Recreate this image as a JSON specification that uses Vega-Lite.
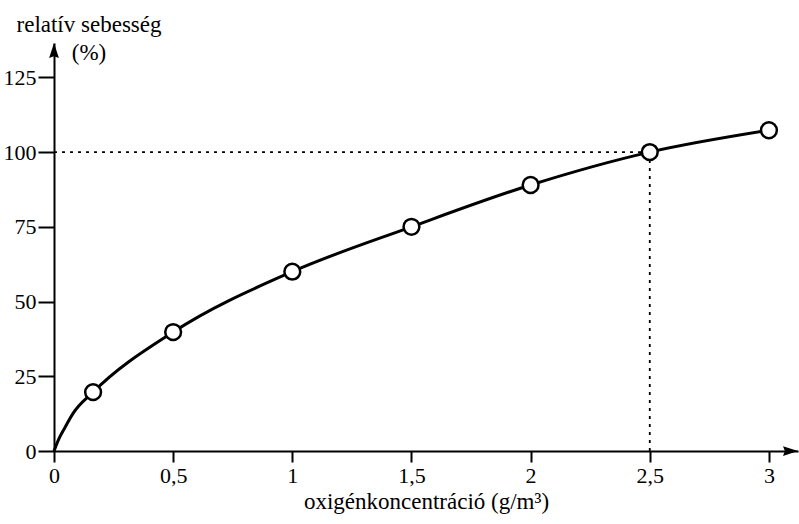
{
  "$schema": "https://vega.github.io/schema/vega-lite/v6.json",
  "width": 744,
  "height": 408,
  "autosize": {"type": "none"},
  "padding": {"left": 54, "top": 43, "right": 1, "bottom": 73},
  "config": {
    "view": {"stroke": null},
    "font": "Liberation Serif",
    "axis": {
      "grid": false,
      "domainColor": "black",
      "domainWidth": 2,
      "tickColor": "black",
      "tickWidth": 2,
      "labelColor": "black",
      "titleColor": "black",
      "labelFont": "Liberation Serif",
      "titleFont": "Liberation Serif",
      "labelFontSize": 22,
      "titleFontSize": 23,
      "titleFontWeight": "normal",
      "labelFlush": false,
      "labelOverlap": false
    }
  },
  "datasets": {
    "curve": [
      {"x": 0, "y": 0},
      {"x": 0.02, "y": 4},
      {"x": 0.04, "y": 7},
      {"x": 0.08, "y": 12.6},
      {"x": 0.164, "y": 19.7},
      {"x": 0.5, "y": 39.8},
      {"x": 1, "y": 60},
      {"x": 1.5, "y": 75},
      {"x": 2, "y": 89},
      {"x": 2.5, "y": 100},
      {"x": 3, "y": 107.3}
    ],
    "points": [
      {"x": 0.164, "y": 19.7},
      {"x": 0.5, "y": 39.8},
      {"x": 1, "y": 60},
      {"x": 1.5, "y": 75},
      {"x": 2, "y": 89},
      {"x": 2.5, "y": 100},
      {"x": 3, "y": 107.3}
    ],
    "guides": [
      {"x": 0, "y": 100, "x2": 2.5, "y2": 100},
      {"x": 2.5, "y": 0, "x2": 2.5, "y2": 100}
    ],
    "arrows": [
      {"x": 0, "y": 136.5, "dir": "up"},
      {"x": 3.122, "y": 0, "dir": "right"}
    ]
  },
  "layer": [
    {
      "data": {"name": "guides"},
      "mark": {"type": "rule", "color": "black", "strokeWidth": 1.8, "strokeDash": [3, 5]},
      "encoding": {
        "x": {
          "field": "x", "type": "quantitative",
          "scale": {"domain": [0, 3.122], "nice": false, "zero": false},
          "axis": {
            "values": [0, 0.5, 1, 1.5, 2, 2.5, 3],
            "labelExpr": "replace(format(datum.value, '~g'), '.', ',')",
            "tickSize": 11,
            "labelPadding": 3,
            "title": "oxigénkoncentráció (g/m³)",
            "titlePadding": 4
          }
        },
        "y": {
          "field": "y", "type": "quantitative",
          "scale": {"domain": [0, 136.5], "nice": false},
          "axis": {
            "values": [0, 25, 50, 75, 100, 125],
            "tickSize": 16,
            "labelPadding": 2,
            "title": ["relatív sebesség", "(%)"],
            "titleAngle": 0,
            "titleAlign": "center",
            "titleBaseline": "alphabetic",
            "titleX": 34.5,
            "titleY": -12,
            "titleLineHeight": 28
          }
        },
        "x2": {"field": "x2"},
        "y2": {"field": "y2"}
      }
    },
    {
      "data": {"name": "curve"},
      "mark": {"type": "line", "color": "black", "strokeWidth": 3, "interpolate": "monotone"},
      "encoding": {
        "x": {"field": "x", "type": "quantitative"},
        "y": {"field": "y", "type": "quantitative"}
      }
    },
    {
      "data": {"name": "points"},
      "mark": {"type": "point", "shape": "circle", "filled": true, "fill": "white", "stroke": "black", "strokeWidth": 2.5, "size": 250, "opacity": 1},
      "encoding": {
        "x": {"field": "x", "type": "quantitative"},
        "y": {"field": "y", "type": "quantitative"}
      }
    },
    {
      "data": {"name": "arrows"},
      "transform": [{"filter": "datum.dir == 'up'"}],
      "mark": {"type": "point", "shape": "M0,0 L-0.65,2 L0,1.75 L0.65,2 Z", "filled": true, "color": "black", "size": 225, "opacity": 1},
      "encoding": {
        "x": {"field": "x", "type": "quantitative"},
        "y": {"field": "y", "type": "quantitative"}
      }
    },
    {
      "data": {"name": "arrows"},
      "transform": [{"filter": "datum.dir == 'right'"}],
      "mark": {"type": "point", "shape": "M0,0 L-2,-0.65 L-1.75,0 L-2,0.65 Z", "filled": true, "color": "black", "size": 225, "opacity": 1},
      "encoding": {
        "x": {"field": "x", "type": "quantitative"},
        "y": {"field": "y", "type": "quantitative"}
      }
    }
  ]
}
